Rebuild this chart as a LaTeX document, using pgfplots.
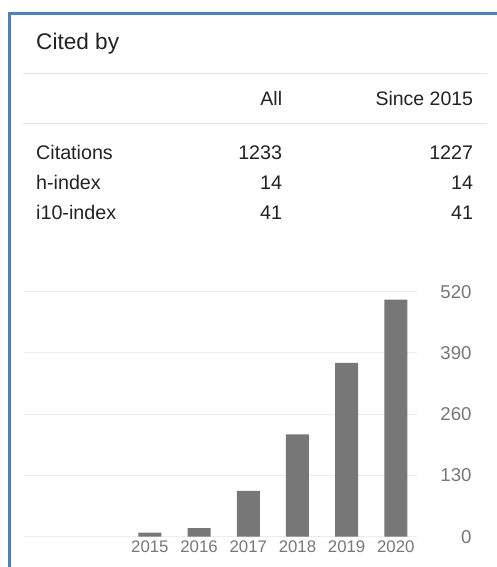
\documentclass[border=0pt]{standalone}
\usepackage{fontspec}
\setmainfont{Liberation Sans}
\usepackage{pgfplots}
\pgfplotsset{compat=1.18}
\definecolor{barcol}{HTML}{777777}
\definecolor{gridcol}{HTML}{ECECEC}
\definecolor{txtcol}{HTML}{222222}
\definecolor{lblcol}{HTML}{777777}
\definecolor{bordercol}{HTML}{4F81BD}
\definecolor{sepcol}{HTML}{E3E3E3}
\begin{document}
\begin{tikzpicture}[x=1pt,y=1pt]
\useasboundingbox (0,0) rectangle (496,567);
% panel border
\draw[bordercol, line width=3pt] (9.5,-2) -- (9.5,553.5) -- (500,553.5);
% header
\node[anchor=base west, inner sep=0pt, text=txtcol, font=\fontsize{22.6pt}{26pt}\selectfont] at (36,517.5) {Cited by};
\draw[sepcol, line width=1pt] (23,493.7) -- (486.7,493.7);
\node[anchor=base east, inner sep=0pt, text=txtcol, font=\fontsize{19.5pt}{23pt}\selectfont] at (282.3,461) {All};
\node[anchor=base east, inner sep=0pt, text=txtcol, font=\fontsize{19.5pt}{23pt}\selectfont] at (473.3,461) {Since 2015};
\draw[sepcol, line width=1pt] (23,443) -- (486.7,443);
% table rows
\foreach \lab/\a/\b/\yy in {Citations/1233/1227/407.5, h-index/14/14/377.7, i10-index/41/41/347.3} {
  \node[anchor=base west, inner sep=0pt, text=txtcol, font=\fontsize{19.7pt}{23pt}\selectfont] at (36,\yy) {\lab};
  \node[anchor=base east, inner sep=0pt, text=txtcol, font=\fontsize{19.7pt}{23pt}\selectfont] at (282.3,\yy) {\a};
  \node[anchor=base east, inner sep=0pt, text=txtcol, font=\fontsize{19.7pt}{23pt}\selectfont] at (473.3,\yy) {\b};
}
% chart
\begin{axis}[
  at={(24pt,30.3pt)}, anchor=south west,
  scale only axis, width=392.7pt, height=245pt,
  xmin=2012.44, xmax=2020.425,
  ymin=0, ymax=520,
  axis line style={draw=none},
  tick style={draw=none},
  xtick={2015,2016,2017,2018,2019,2020},
  xticklabels={2015,2016,2017,2018,2019,2020},
  ytick={0,130,260,390,520},
  yticklabels={0,130,260,390,520},
  yticklabel pos=right,
  ymajorgrids,
  grid style={gridcol, line width=1pt},
  x tick label style={anchor=north, inner sep=0pt, yshift=-4.3pt, text=lblcol, font=\fontsize{16.8pt}{19pt}\selectfont},
  y tick label style={anchor=east, inner sep=0pt, xshift=55pt, text=lblcol, font=\fontsize{18.6pt}{22pt}\selectfont},
]
\addplot[ybar, bar width=23pt, fill=barcol, draw=none] coordinates {
  (2015,8.5) (2016,18) (2017,97) (2018,217) (2019,369) (2020,503)
};
\end{axis}
\end{tikzpicture}
\end{document}
